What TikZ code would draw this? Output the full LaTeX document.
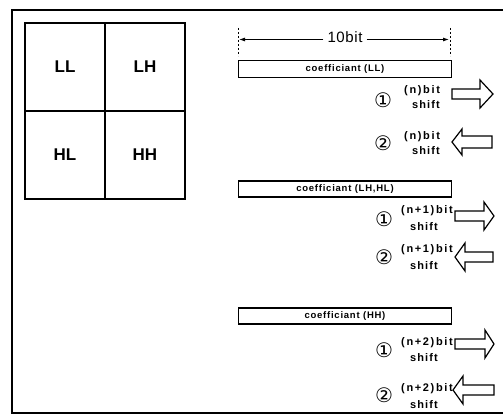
\documentclass[tikz,border=0pt]{standalone}
\usepackage{fontspec}
\usetikzlibrary{arrows.meta}
\setmainfont{Liberation Sans}
\newfontfamily\dvs{DejaVu Sans}
\begin{document}
\begin{tikzpicture}[x=1pt,y=-1pt,
  frame/.style={line width=1.3pt},
  quad/.style={draw,line width=1.1pt,minimum width=80pt,minimum height=88pt,inner sep=0pt,font=\fontsize{17}{17}\selectfont\bfseries},
  coef/.style={draw,line width=1.1pt,minimum width=213pt,minimum height=17pt,inner sep=0pt,font=\fontsize{9.5}{10}\selectfont\bfseries\addfontfeatures{LetterSpace=8}},
  circ/.style={inner sep=0pt,font=\dvs\fontsize{20}{20}\selectfont},
  bitlbl/.style={inner sep=0pt,anchor=west,font=\fontsize{11}{11}\selectfont\bfseries\addfontfeatures{LetterSpace=15}},
  shiftlbl/.style={inner sep=0pt,font=\fontsize{11}{11}\selectfont\bfseries\addfontfeatures{LetterSpace=10}},
  dimline/.style={line width=0.6pt,dash pattern=on 2pt off 2pt},
  dimarrow/.style={line width=0.9pt,-{Latex[length=6pt,width=4pt]}},
  shiftarrow/.style={draw,line width=1.2pt,line join=miter},
  pics/rarr/.style n args={4}{code={%
    \draw[shiftarrow] (0,-#3) -- ({#1-#2},-#3) -- ({#1-#2},-#4) -- (#1,0) -- ({#1-#2},#4) -- ({#1-#2},#3) -- (0,#3) -- cycle;}}
]
\useasboundingbox (0,0) rectangle (503,417);
% frame
\draw[frame] (503,10) -- (12,10) -- (12,413) -- (503,413);
% quadrants
\node[quad] (ll) at (65,67) {LL};
\node[quad] (lh) at (145,67) {LH};
\node[quad] (hl) at (65,155) {HL};
\node[quad] (hh) at (145,155) {HH};
% dimension
\coordinate (dlt) at (238,28); \coordinate (dlb) at (238,56);
\coordinate (drt) at (450,28); \coordinate (drb) at (450,56);
\draw[dimline] (dlt) -- (dlb);
\draw[dimline] (drt) -- (drb);
\node[inner sep=4pt,font=\fontsize{15}{15}\selectfont\addfontfeatures{LetterSpace=4}] (tenbit) at (345,37) {10bit};
\coordinate (dimL) at (239,39.5); \coordinate (dimR) at (449,39.5);
\draw[dimarrow] (tenbit.west |- dimL) -- (dimL);
\draw[dimarrow] (tenbit.east |- dimR) -- (dimR);
% coefficient boxes
\node[coef] (cll) at (345,69) {coefficiant (LL)};
\node[coef,minimum height=16pt] (clhhl) at (345,189) {coefficiant (LH,HL)};
\node[coef,minimum height=16pt] (chh) at (345,316) {coefficiant (HH)};
% row group 1
\node[circ] (c1a) at (383,100) {①};
\node[bitlbl] (b1a) at (404,91) {(n)bit};
\node[shiftlbl] (s1a) at (426,105) {shift};
\pic at (452,94) {rarr={41}{13}{5}{14}};
\node[circ] (c2a) at (383,143) {②};
\node[bitlbl] (b2a) at (404,137) {(n)bit};
\node[shiftlbl] (s2a) at (426,151) {shift};
\pic[xscale=-1] at (492,142) {rarr={40}{10}{6}{13}};
% row group 2
\node[circ] (c1b) at (384,219) {①};
\node[bitlbl] (b1b) at (401,211) {(n+1)bit};
\node[shiftlbl] (s1b) at (424,227) {shift};
\pic at (455,216) {rarr={39}{10}{5}{14}};
\node[circ] (c2b) at (384,257) {②};
\node[bitlbl] (b2b) at (401,250) {(n+1)bit};
\node[shiftlbl] (s2b) at (424,266) {shift};
\pic[xscale=-1] at (493,257) {rarr={38}{10}{5}{14}};
% row group 3
\node[circ] (c1c) at (384,350) {①};
\node[bitlbl] (b1c) at (401,343) {(n+2)bit};
\node[shiftlbl] (s1c) at (424,358) {shift};
\pic at (455,344) {rarr={39}{9}{5}{14}};
\node[circ] (c2c) at (384,395) {②};
\node[bitlbl] (b2c) at (401,389) {(n+2)bit};
\node[shiftlbl] (s2c) at (424,405) {shift};
\pic[xscale=-1] at (494,390) {rarr={41}{10}{5}{14}};
\end{tikzpicture}
\end{document}
